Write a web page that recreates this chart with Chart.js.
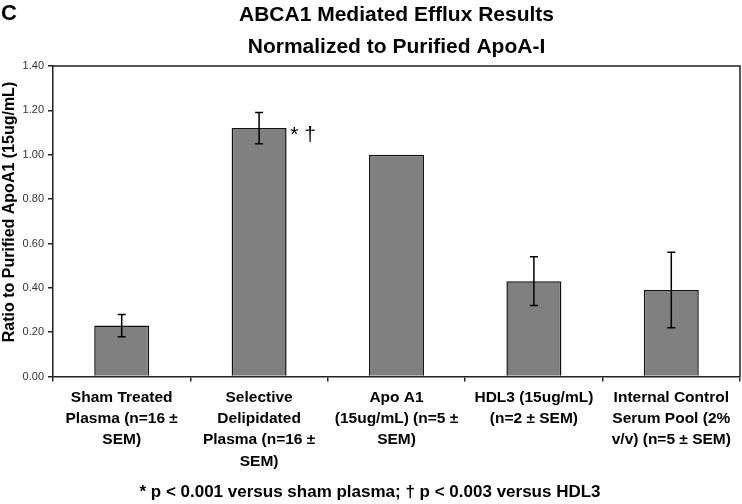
<!DOCTYPE html>
<html>
<head>
<meta charset="utf-8">
<script src="https://cdn.jsdelivr.net/npm/chart.js@4"></script>
<style>
html,body{margin:0;padding:0;background:#fff;}
#wrap{width:742px;height:504px;}
</style>
</head>
<body>
<div id="wrap"><canvas id="chart" width="742" height="504"></canvas></div>
<script>
const titleLines = ["ABCA1 Mediated Efflux Results", "Normalized to Purified ApoA-I"];
const yTitle = "Ratio to Purified ApoA1 (15ug/mL)";
const categories = [
  ["Sham Treated", "Plasma (n=16 \u00b1", "SEM)"],
  ["Selective", "Delipidated", "Plasma (n=16 \u00b1", "SEM)"],
  ["Apo A1", "(15ug/mL) (n=5 \u00b1", "SEM)"],
  ["HDL3 (15ug/mL)", "(n=2 \u00b1 SEM)"],
  ["Internal Control", "Serum Pool (2%", "v/v) (n=5 \u00b1 SEM)"]
];
const ratios = [0.23, 1.12, 1.00, 0.43, 0.39];
const errLow = [0.18, 1.05, null, 0.32, 0.22];
const errHigh = [0.28, 1.19, null, 0.54, 0.56];
const yTicks = [0, 0.2, 0.4, 0.6, 0.8, 1.0, 1.2, 1.4];

const FONT = "'Liberation Sans', Arial, sans-serif";
Chart.defaults.font.family = FONT;
Chart.defaults.color = "#000";

/* error bars, frame, titles, panel letter and significance marks */
const extras = {
  id: "extras",
  afterDatasetsDraw(chart) {
    const ctx = chart.ctx;
    const y = chart.scales.y;
    const meta = chart.getDatasetMeta(0);
    const area = chart.chartArea;
    ctx.save();
    ctx.strokeStyle = "#000";
    ctx.lineWidth = 1.5;
    for (let i = 0; i < ratios.length; i++) {
      if (errLow[i] == null) continue;
      let x = meta.data[i].x;
      let yt = y.getPixelForValue(errHigh[i]);
      let yb = y.getPixelForValue(errLow[i]);
      ctx.beginPath();
      ctx.moveTo(x, yt); ctx.lineTo(x, yb);
      ctx.moveTo(x - 4, yt); ctx.lineTo(x + 4, yt);
      ctx.moveTo(x - 4, yb); ctx.lineTo(x + 4, yb);
      ctx.stroke();
    }
    // plot frame
    ctx.strokeStyle = "#222";
    ctx.beginPath();
    ctx.moveTo(area.left, area.top); ctx.lineTo(area.right, area.top);
    ctx.lineTo(area.right, area.bottom);
    ctx.stroke();

    ctx.fillStyle = "#000";
    // significance marks next to bar 2
    ctx.font = "21px " + FONT;
    ctx.textAlign = "center";
    ctx.textBaseline = "middle";
    ctx.fillText("* \u2020", meta.data[1].x + 44, y.getPixelForValue(1.09));

    // chart title, centred over the plot area
    ctx.font = "bold 21px " + FONT;
    const cx = (area.left + area.right) / 2;
    titleLines.forEach((t, i) => ctx.fillText(t, cx, 15 + i * 32));

    // y axis title
    ctx.save();
    ctx.font = "bold 16px " + FONT;
    ctx.translate(10, 212);
    ctx.rotate(-Math.PI / 2);
    ctx.fillText(yTitle, 0, 0);
    ctx.restore();

    // panel letter
    ctx.font = "bold 22px " + FONT;
    ctx.textAlign = "left";
    ctx.textBaseline = "top";
    ctx.fillText("C", 1, 3);
    ctx.restore();
  }
};

new Chart(document.getElementById("chart"), {
  type: "bar",
  data: {
    labels: categories,
    datasets: [{
      data: ratios,
      backgroundColor: "#808080",
      borderColor: "#111",
      borderWidth: 1.5,
      categoryPercentage: 1,
      barPercentage: 0.4
    }]
  },
  options: {
    responsive: false,
    animation: false,
    layout: { padding: { top: 66, right: 2, bottom: 0, left: 0 } },
    plugins: {
      legend: { display: false },
      tooltip: { enabled: false },
      title: { display: false },
      subtitle: {
        display: true,
        position: "bottom",
        text: "* p < 0.001 versus sham plasma; \u2020 p < 0.003 versus HDL3",
        font: { size: 17, weight: "bold", lineHeight: 1.2 },
        padding: { top: 0, bottom: 1 },
        color: "#000"
      }
    },
    scales: {
      x: {
        grid: { drawOnChartArea: false, tickLength: 5, color: "#222", lineWidth: 1.5 },
        border: { color: "#222", width: 1.5 },
        ticks: { font: { size: 15.5, weight: "bold", lineHeight: 1.38 }, padding: 5, maxRotation: 0, autoSkip: false, color: "#000" },
        afterFit(scale) { scale.height = 106; }
      },
      y: {
        min: 0,
        max: 1.4,
        afterBuildTicks(scale) { scale.ticks = yTicks.map(v => ({ value: v })); },
        grid: { drawOnChartArea: false, tickLength: 5, color: "#222", lineWidth: 1.5 },
        border: { color: "#222", width: 1.5 },
        ticks: { font: { size: 11 }, color: "#333", padding: 4, callback: v => v.toFixed(2) },
        afterFit(scale) { scale.width = 53; }
      }
    }
  },
  plugins: [extras]
});
</script>
</body>
</html>
